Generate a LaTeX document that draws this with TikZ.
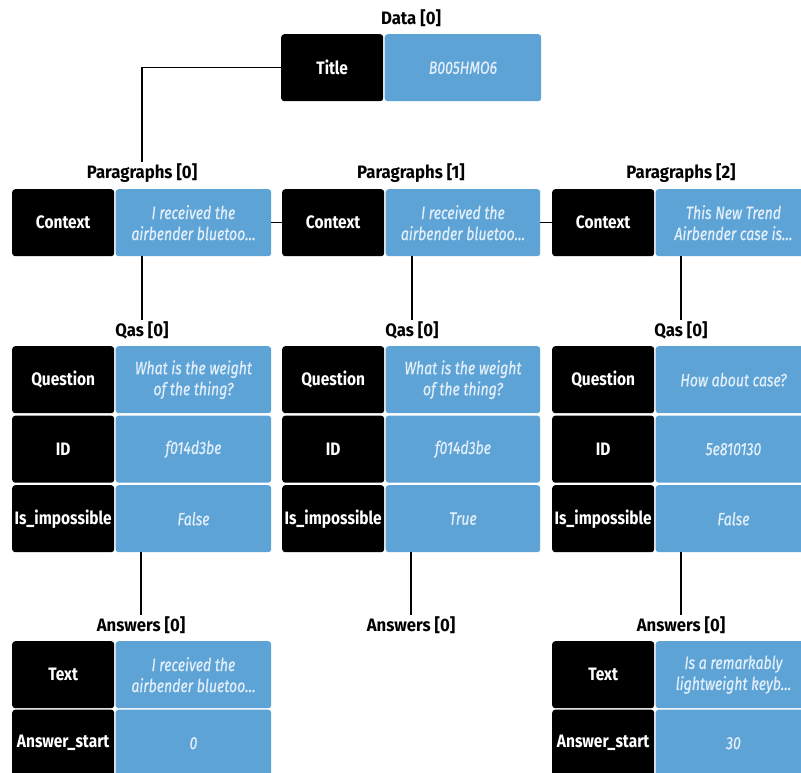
\documentclass[tikz,border=0pt]{standalone}
\usepackage{fontspec}
\setmainfont{Fira Sans}[FakeStretch=0.86]
\newfontfamily\valfont{Fira Sans}[FakeStretch=0.79, FakeBold=0.6]
\newfontfamily\hdrfont{Fira Sans}[FakeStretch=0.93]
\definecolor{cellblue}{RGB}{94,163,214}
\definecolor{valtext}{RGB}{226,239,250}
\tikzset{
  keycell/.style={fill=black, text=white, rounded corners=3pt, minimum height=67pt,
    minimum width=102pt, inner sep=0pt, anchor=north west,
    font=\fontsize{18}{20}\selectfont\bfseries},
  valcell/.style={fill=cellblue, text=valtext, rounded corners=3pt, minimum height=67pt,
    minimum width=155.5pt, inner sep=0pt, anchor=north west, align=center,
    font=\valfont\fontsize{17.8}{21}\selectfont\itshape},
  hdr/.style={inner sep=1pt, font=\hdrfont\fontsize{18}{20}\selectfont\bfseries},
  conn/.style={draw=black, line width=1.1pt}
}
\begin{document}
\begin{tikzpicture}[x=1pt,y=-1pt]
\path[use as bounding box, clip] (0,0) rectangle (801,773);
\fill[white] (0,0) rectangle (801,773);

% Data
\node[hdr] (dh) at (411,18) {Data [0]};
\node[keycell] (dk) at (281,34) {Title};
\node[valcell, minimum width=156.5pt] (dv) at (384.5,34) {B005HMO6};

% Paragraphs
\node[hdr] (ph1) at (142,173) {Paragraphs [0]};
\node[hdr] (ph2) at (411,173) {Paragraphs [1]};
\node[hdr] (ph3) at (681,173) {Paragraphs [2]};
\node[keycell] (p1k) at (12,189) {Context};
\node[valcell] (p1v) at (115.5,189) {I received the\\airbender bluetoo…};
\node[keycell] (p2k) at (282,189) {Context};
\node[valcell, minimum width=154.5pt] (p2v) at (385.5,189) {I received the\\airbender bluetoo…};
\node[keycell] (p3k) at (552,189) {Context};
\node[valcell] (p3v) at (655.5,189) {This New Trend\\Airbender case is…};

% Qas
\node[hdr] (qh1) at (142,330) {Qas [0]};
\node[hdr] (qh2) at (412,330) {Qas [0]};
\node[hdr] (qh3) at (681,330) {Qas [0]};

\node[keycell] (q1ak) at (12,346) {Question};
\node[valcell] (q1av) at (115.5,346) {What is the weight\\of the thing?};
\node[keycell] (q1bk) at (12,415.5) {ID};
\node[valcell] (q1bv) at (115.5,415.5) {f014d3be};
\node[keycell] (q1ck) at (12,485) {Is\_impossible};
\node[valcell] (q1cv) at (115.5,485) {False};

\node[keycell] (q2ak) at (282,346) {Question};
\node[valcell, minimum width=154.5pt] (q2av) at (385.5,346) {What is the weight\\of the thing?};
\node[keycell] (q2bk) at (282,415.5) {ID};
\node[valcell, minimum width=154.5pt] (q2bv) at (385.5,415.5) {f014d3be};
\node[keycell] (q2ck) at (282,485) {Is\_impossible};
\node[valcell, minimum width=154.5pt] (q2cv) at (385.5,485) {True};

\node[keycell] (q3ak) at (552,346) {Question};
\node[valcell] (q3av) at (655.5,346) {How about case?};
\node[keycell] (q3bk) at (552,415.5) {ID};
\node[valcell] (q3bv) at (655.5,415.5) {5e810130};
\node[keycell] (q3ck) at (552,485) {Is\_impossible};
\node[valcell] (q3cv) at (655.5,485) {False};

% Answers
\node[hdr] (ah1) at (141,625) {Answers [0]};
\node[hdr] (ah2) at (411,625) {Answers [0]};
\node[hdr] (ah3) at (681,625) {Answers [0]};

\node[keycell] (a1ak) at (12,641) {Text};
\node[valcell] (a1av) at (115.5,641) {I received the\\airbender bluetoo…};
\node[keycell] (a1bk) at (12,709.5) {Answer\_start};
\node[valcell] (a1bv) at (115.5,709.5) {0};

\node[keycell] (a3ak) at (552,641) {Text};
\node[valcell] (a3av) at (655.5,641) {Is a remarkably\\lightweight keyb…};
\node[keycell] (a3bk) at (552,709.5) {Answer\_start};
\node[valcell] (a3bv) at (655.5,709.5) {30};

% connectors
\draw[conn] (dk.west) -| (ph1.north);
\draw[conn] (p1v.east) -- (p2k.west);
\draw[conn] (p2v.east) -- (p3k.west);
\draw[conn] (p1v.south -| qh1.north) -- (qh1.north);
\draw[conn] (p2v.south -| qh2.north) -- (qh2.north);
\draw[conn] (p3v.south -| qh3.north) -- (qh3.north);
\draw[conn] (q1cv.south -| ah1.north) -- (ah1.north);
\draw[conn] (q2cv.south -| ah2.north) -- (ah2.north);
\draw[conn] (q3cv.south -| ah3.north) -- (ah3.north);
\end{tikzpicture}
\end{document}
